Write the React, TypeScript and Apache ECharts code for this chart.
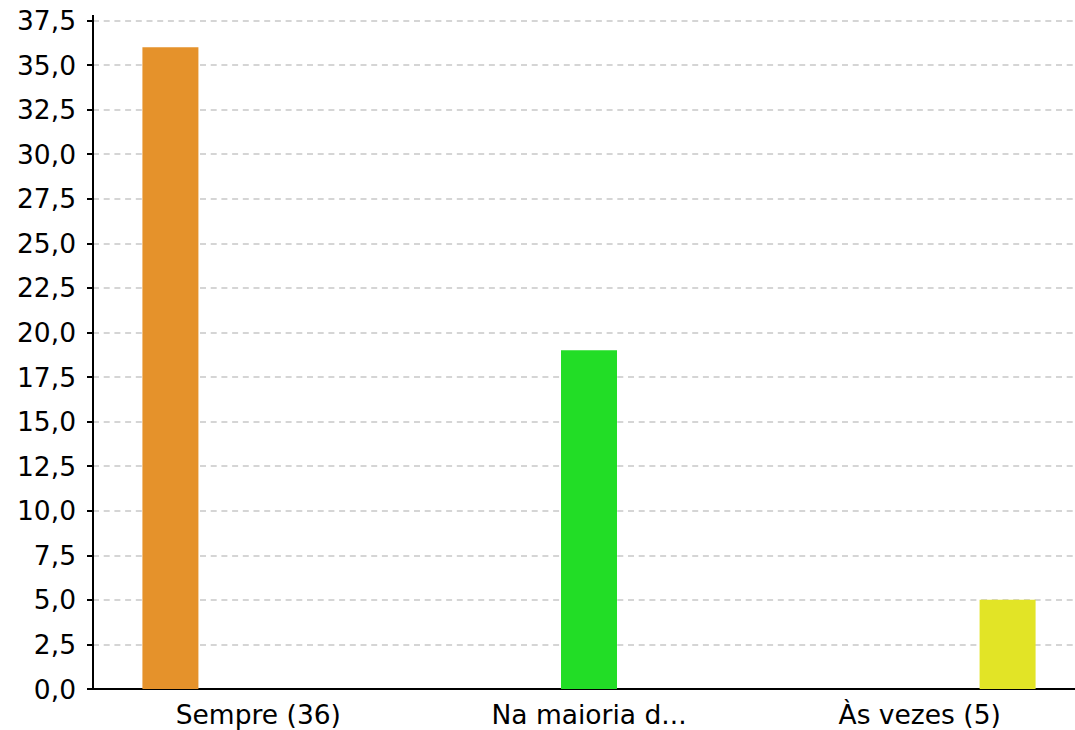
import React, { useEffect, useRef } from "react";
import * as echarts from "echarts";

const categories = ["Sempre (36)", "Na maioria d...", "Às vezes (5)"];
const seriesNames = ["Sempre", "Na maioria das vezes", "Às vezes"];
const seriesValues: (number | null)[][] = [
  [36, null, null],
  [null, 19, null],
  [null, null, 5],
];
const seriesColors = ["#E5922B", "#22DD26", "#E2E426"];
const yMin = 0;
const yMax = 37.5;
const yInterval = 2.5;

export default function App() {
  const ref = useRef<HTMLDivElement>(null);
  useEffect(() => {
    if (!ref.current) return;
    const chart = echarts.init(ref.current, null, { renderer: "svg" });
    const font = "DejaVu Sans";
    chart.setOption({
      animation: false,
      backgroundColor: "#ffffff",
      grid: {
        left: 93,
        width: 992,
        top: 20.5,
        bottom: 41,
        containLabel: false,
        outerBoundsMode: "none",
      },
      xAxis: {
        type: "category",
        data: categories,
        axisLine: { show: true, lineStyle: { color: "#000", width: 2 } },
        axisTick: { show: false },
        axisLabel: { color: "#000", fontFamily: font, fontSize: 26.5, margin: 12 },
        splitLine: { show: false },
      },
      yAxis: {
        type: "value",
        min: yMin,
        max: yMax,
        interval: yInterval,
        axisLine: { show: true, lineStyle: { color: "#000", width: 2 } },
        axisTick: { show: true, length: 6, lineStyle: { color: "#000", width: 2 } },
        axisLabel: {
          color: "#000",
          fontFamily: font,
          fontSize: 26.5,
          margin: 17,
          formatter: (v: number) => v.toFixed(1).replace(".", ","),
        },
        splitLine: { show: true, lineStyle: { color: "#c8c8c8", type: [6, 4.7], width: 1.5 } },
      },
      graphic: [
        {
          type: "line",
          shape: { x1: 93, y1: 15, x2: 93, y2: 21 },
          style: { stroke: "#000", lineWidth: 2 },
        },
      ],
      series: seriesValues.map((vals, i) => ({
        type: "bar",
        name: seriesNames[i],
        data: vals,
        barWidth: 56,
        barGap: "57%",
        itemStyle: { color: seriesColors[i] },
      })),
    });
    return () => chart.dispose();
  }, []);
  return (
    <div
      ref={ref}
      style={{ position: "absolute", left: 0, top: 0, width: 1075, height: 730 }}
    />
  );
}
